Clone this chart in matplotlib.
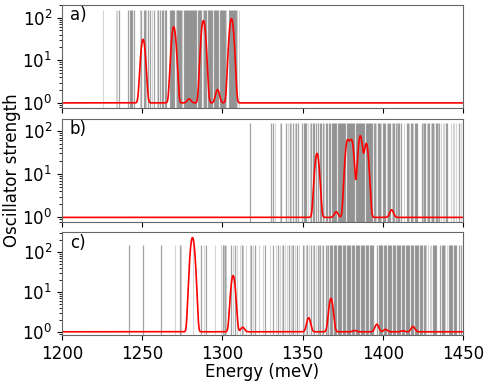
import numpy as np
import matplotlib
matplotlib.use("Agg")
import matplotlib.pyplot as plt

# ---- stick spectra (transition energies, meV) ----
a_dark = [1235.4, 1241.3, 1242.2, 1243.0, 1244.0, 1244.8, 1249.6, 1250.9, 1251.7, 1253.7,
          1254.8, 1257.5, 1260.0, 1261.0, 1262.1, 1263.1, 1264.2, 1265.2, 1267.2, 1267.8,
          1268.4, 1269.0, 1269.7, 1271.8, 1272.5, 1273.2, 1273.9, 1274.5, 1275.9, 1276.5,
          1277.2, 1277.9, 1278.6, 1279.3, 1280.0, 1280.6, 1281.2, 1281.8, 1282.5, 1283.2,
          1283.9, 1284.6, 1285.3, 1286.0, 1286.7, 1288.7, 1289.4, 1290.1, 1290.8, 1291.5,
          1292.2, 1292.9, 1293.6, 1294.8, 1295.5, 1296.2, 1296.9, 1297.6, 1298.3, 1299.0,
          1299.7, 1300.4, 1301.1, 1301.8, 1303.9, 1304.6, 1305.3, 1306.0, 1306.7, 1307.4,
          1308.1, 1308.7]
a_light = [1225.7, 1233.6, 1234.4, 1248.8, 1252.7, 1256.2, 1259.0, 1270.9, 1275.1, 1287.7,
           1302.5, 1309.3, 1310.2]

b_dark = [1317.1, 1330.6, 1331.4, 1336.8, 1339.9, 1342.0, 1344.1, 1346.2, 1347.1, 1349.9,
          1350.6, 1351.5, 1352.4, 1355.5, 1356.5, 1357.4, 1358.3, 1359.6, 1360.6, 1361.5,
          1362.5, 1364.6, 1365.4, 1366.4, 1367.3, 1368.2, 1369.0, 1369.7, 1370.4, 1371.1,
          1371.8, 1372.5, 1373.2, 1373.9, 1374.6, 1375.3, 1376.0, 1376.7, 1377.4, 1378.1,
          1378.8, 1379.5, 1380.2, 1380.9, 1381.6, 1382.3, 1383.0, 1383.7, 1384.4, 1385.1,
          1385.8, 1386.5, 1387.2, 1387.9, 1388.6, 1389.3, 1390.0, 1390.7, 1391.4, 1392.1,
          1392.8, 1393.5, 1394.4, 1395.2, 1396.8, 1397.6, 1398.4, 1400.0, 1400.8, 1401.6,
          1403.2, 1404.0, 1404.8, 1406.4, 1407.2, 1408.0, 1409.6, 1410.4, 1411.2, 1415.0,
          1415.8, 1417.4, 1418.2, 1419.8, 1420.6, 1421.4, 1424.2, 1425.8, 1426.6, 1428.2,
          1429.0, 1430.6, 1431.4, 1433.0, 1433.8, 1435.3, 1439.6, 1440.3, 1447.8]
b_light = [1332.6, 1335.7, 1341.0, 1343.0, 1345.2, 1353.2, 1354.5, 1363.5, 1396.0, 1399.2,
           1402.4, 1405.6, 1408.8, 1413.0, 1416.6, 1419.0, 1425.0, 1427.4, 1429.8, 1432.2,
           1434.6, 1436.5, 1437.4, 1438.3, 1442.8, 1443.6, 1444.5, 1445.4, 1448.6]

c_dark = [1241.9, 1250.6, 1261.5, 1273.5, 1287.0, 1290.1, 1300.2, 1301.8, 1305.7, 1307.7,
          1312.5, 1318.0, 1320.2, 1326.5, 1331.7, 1334.8, 1338.0, 1341.5, 1344.0, 1346.5,
          1350.3, 1353.0, 1355.5, 1357.0, 1359.5, 1361.0, 1363.0, 1364.5, 1366.0, 1367.0,
          1367.8, 1368.6, 1369.4, 1370.2, 1371.0, 1371.8, 1372.6, 1373.4, 1374.2, 1375.0,
          1375.8, 1376.6, 1377.4, 1378.2, 1379.0, 1379.8, 1380.6, 1381.4, 1382.2, 1383.0,
          1383.8, 1384.6, 1385.4, 1386.2, 1387.0, 1387.8, 1388.6, 1389.4, 1390.2, 1391.0,
          1391.8, 1392.6, 1393.4, 1394.2, 1396.6, 1397.4, 1398.2, 1399.0, 1399.8, 1400.6,
          1401.4, 1402.2, 1403.0, 1403.8, 1404.6, 1405.4, 1406.2, 1407.0, 1407.8, 1408.6,
          1409.4, 1410.2, 1411.0, 1411.8, 1412.6, 1413.4, 1414.2, 1415.0, 1415.8, 1416.6,
          1417.4, 1418.2, 1419.0, 1419.8, 1420.6, 1421.4, 1422.2, 1423.0, 1423.8, 1424.6,
          1425.4, 1426.2, 1431.0, 1431.8, 1432.6, 1433.4, 1435.8, 1436.6, 1437.4, 1438.2,
          1441.0, 1441.8, 1442.6, 1443.4, 1444.2, 1445.0, 1445.8, 1447.4, 1448.6]
c_light = [1270.8, 1274.5, 1281.8, 1288.4, 1295.3, 1299.4, 1301.0, 1302.5, 1306.6, 1309.2,
           1310.8, 1312.9, 1315.0, 1317.1, 1319.2, 1322.9, 1325.4, 1330.0, 1333.2, 1336.0,
           1337.0, 1339.0, 1340.0, 1342.5, 1343.3, 1345.3, 1347.5, 1351.0, 1352.0, 1354.3,
           1356.3, 1358.2, 1360.3, 1362.0, 1365.2, 1427.2, 1428.2, 1429.2, 1430.0, 1439.0,
           1440.0]

# ---- broadened spectra: peak centres (meV) and amplitudes ----
a_peak_e = [1250.6, 1269.7, 1279.3, 1288.2, 1297.0, 1305.7]
a_peak_h = [30.0, 60.0, 0.24, 84.0, 1.05, 94.0]
b_peak_e = [1359.0, 1371.0, 1378.0, 1380.6, 1386.0, 1389.7, 1405.5]
b_peak_h = [29.0, 0.35, 58.0, 58.0, 76.0, 50.0, 0.5]
c_peak_e = [1281.4, 1306.7, 1312.7, 1353.8, 1367.7, 1382.4, 1396.3, 1401.7, 1412.5, 1418.8]
c_peak_h = [233.0, 25.0, 0.3, 1.25, 5.9, 0.08, 0.55, 0.15, 0.06, 0.36]

panel_labels = ["a)", "b)", "c)"]
x_ticks = [1200, 1250, 1300, 1350, 1400, 1450]

sigma = 1.1
E = np.linspace(1200, 1450, 3000)


def spectrum(centres, heights):
    y = np.ones_like(E)
    for c, h in zip(centres, heights):
        y += h * np.exp(-(E - c) ** 2 / (2 * sigma ** 2))
    return y


fig = plt.figure(figsize=(4.91, 3.81), dpi=100)
left, width = 0.126, 0.817
bottoms = [0.716, 0.4165, 0.1207]
heights = [0.272, 0.2712, 0.2693]
ylims = [(0.75, 203), (0.77, 188), (0.83, 316)]
data = [(a_dark, a_light, a_peak_e, a_peak_h),
        (b_dark, b_light, b_peak_e, b_peak_h),
        (c_dark, c_light, c_peak_e, c_peak_h)]

axes = []
for i in range(3):
    ax = fig.add_axes([left, bottoms[i], width, heights[i]])
    dark, light, pe, ph = data[i]
    ax.vlines(light, 0.5, 150, color="k", alpha=0.16, lw=0.8)
    ax.vlines(dark, 0.5, 150, color="k", alpha=0.36, lw=0.9)
    ax.plot(E, spectrum(pe, ph), color="red", lw=1.2)
    ax.set_yscale("log")
    ax.set_ylim(*ylims[i])
    ax.set_xlim(1200, 1450)
    ax.set_xticks(x_ticks)
    ax.set_yticks([1, 10, 100])
    ax.tick_params(labelsize=12)
    for s in ax.spines.values():
        s.set_edgecolor("0.4")
    ax.text(0.02, 0.9, panel_labels[i], transform=ax.transAxes, fontsize=12,
            ha="left", va="center")
    if i < 2:
        ax.tick_params(labelbottom=False)
    axes.append(ax)

axes[2].set_xlabel("Energy (meV)", fontsize=12, labelpad=0)
fig.text(0.024, 0.554, "Oscillator strength", rotation=90, fontsize=12,
         ha="center", va="center")

fig.savefig("out.png", dpi=100)
